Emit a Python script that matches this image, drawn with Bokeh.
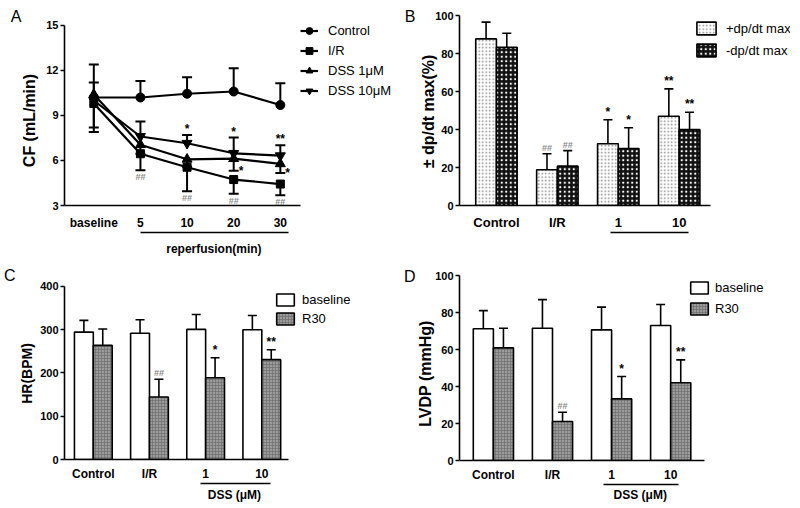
from bokeh.plotting import figure
from bokeh.models import FixedTicker, LinearAxis, Legend, LegendItem, Range1d
from bokeh.layouts import row, column
from bokeh.embed import file_html
from bokeh.resources import INLINE
from bokeh.core.properties import value

FONT = "Liberation Sans"

# ---------------- Panel A data (CF, mL/min) ----------------
a_labels = ["baseline", "5", "10", "20", "30"]
ctrl = [10.2, 10.2, 10.45, 10.6, 9.7]
ctrl_up = [1.0, 1.1, 1.1, 1.55, 1.45]
ctrl_dn = [0, 0, 0, 0, 0]
ir = [9.8, 6.45, 5.55, 4.73, 4.43]
ir_up = [0, 0, 0, 0, 0]
ir_dn = [1.9, 1.1, 1.6, 0.95, 0.75]
dss1 = [10.4, 7.05, 6.08, 6.12, 5.78]
dss1_up = [2.0, 0, 0, 0, 0]
dss1_dn = [0, 0.6, 0.5, 0.8, 0.62]
dss10 = [10.0, 7.6, 7.15, 6.48, 6.32]
dss10_up = [0, 1.0, 0.55, 1.05, 0.7]
dss10_dn = [1.8, 0, 0, 0, 0]
ir_sig = ["", "##", "##", "##", "##"]
dss1_sig = ["", "", "", "*", "*"]
dss10_sig = ["", "", "*", "*", "**"]

# ---------------- Panel B data (±dp/dt max %) ----------------
b_labels = ["Control", "I/R", "1", "10"]
plus = [87.7, 18.8, 32.5, 47.0]
plus_err = [8.8, 8.4, 12.6, 14.4]
minus = [83.3, 20.7, 30.0, 40.0]
minus_err = [7.4, 8.2, 10.9, 9.1]
plus_sig = ["", "##", "*", "**"]
minus_sig = ["", "##", "*", "**"]

# ---------------- Panel C data (HR, BPM) ----------------
c_labels = ["Control", "I/R", "1", "10"]
hr_base = [294.6, 292.0, 300.8, 300.0]
hr_base_err = [27.0, 31.0, 34.6, 33.0]
hr_r30 = [263.8, 144.6, 189.0, 230.8]
hr_r30_err = [38.0, 41.0, 46.4, 23.0]
hr_sig = ["", "##", "*", "**"]

# ---------------- Panel D data (LVDP, mmHg) ----------------
d_labels = ["Control", "I/R", "1", "10"]
lv_base = [71.2, 71.5, 70.6, 73.0]
lv_base_err = [9.8, 15.5, 12.3, 11.3]
lv_r30 = [60.9, 21.1, 33.3, 42.0]
lv_r30_err = [10.6, 5.0, 12.1, 12.4]
lv_sig = ["", "##", "*", "**"]


def make_fig(w, h, xr, yr, ml, mr, mt, mb):
    p = figure(width=w, height=h, x_range=Range1d(*xr), y_range=Range1d(*yr),
               output_backend="svg", toolbar_location=None, title=None,
               min_border_left=ml, min_border_right=mr, min_border_top=mt, min_border_bottom=mb)
    p.outline_line_color = None
    p.xgrid.visible = False
    p.ygrid.visible = False
    p.background_fill_color = "white"
    p.border_fill_color = "white"
    return p


def no_ticks(ax):
    ax.major_tick_out = 0
    ax.major_tick_in = 0
    ax.minor_tick_out = 0
    ax.minor_tick_in = 0


def style_axes(p, xlabels, xbounds, xfs, xstand, yticks, ybounds, yfs):
    xa = p.xaxis[0]
    xa.ticker = FixedTicker(ticks=list(range(len(xlabels))))
    xa.major_label_overrides = {i: t for i, t in enumerate(xlabels)}
    xa.bounds = xbounds
    no_ticks(xa)
    xa.major_label_standoff = xstand
    xa.major_label_text_font = FONT
    xa.major_label_text_font_style = "bold"
    xa.major_label_text_font_size = xfs
    xa.major_label_text_color = "black"
    xa.axis_line_width = 1.6
    xa.axis_line_color = "black"
    ya = p.yaxis[0]
    ya.ticker = FixedTicker(ticks=yticks)
    ya.bounds = ybounds
    no_ticks(ya)
    ya.major_tick_out = 4
    ya.major_tick_line_width = 1.6
    ya.major_label_standoff = 2
    ya.major_label_text_font = FONT
    ya.major_label_text_font_style = "bold"
    ya.major_label_text_font_size = yfs
    ya.major_label_text_color = "black"
    ya.axis_line_width = 1.6
    ya.axis_line_color = "black"


def text_axis(p, side, pos, text, stand, fs, bold, orient="horizontal", bounds=None, line=False):
    ax = LinearAxis(ticker=FixedTicker(ticks=[pos] if text else []))
    if text:
        ax.major_label_overrides = {pos: text}
    if bounds is not None:
        ax.bounds = bounds
    no_ticks(ax)
    ax.major_label_standoff = stand
    ax.major_label_orientation = orient
    ax.major_label_text_font = FONT
    ax.major_label_text_font_style = "bold" if bold else "normal"
    ax.major_label_text_font_size = fs
    ax.major_label_text_color = "black"
    if line:
        ax.axis_line_width = 1.6
        ax.axis_line_color = "black"
    else:
        ax.axis_line_color = None
    p.add_layout(ax, side)


def sig_text(p, xs, ys, sigs, baseline, yoff, xoff=0, align="center"):
    hx = [x for x, s in zip(xs, sigs) if s.startswith("#")]
    hy = [y for y, s in zip(ys, sigs) if s.startswith("#")]
    ht = [s for s in sigs if s.startswith("#")]
    sx = [x for x, s in zip(xs, sigs) if s.startswith("*")]
    sy = [y for y, s in zip(ys, sigs) if s.startswith("*")]
    st = [s for s in sigs if s.startswith("*")]
    if ht:
        p.text(x=hx, y=hy, text=ht, text_align=align, text_baseline=baseline,
               y_offset=yoff, x_offset=xoff, text_font=value(FONT), text_font_size="9px",
               text_color="#8a8a8a", text_font_style="bold")
    if st:
        p.text(x=sx, y=sy, text=st, text_align=align, text_baseline=baseline,
               y_offset=yoff, x_offset=xoff, text_font=value(FONT), text_font_size="12px",
               text_color="black", text_font_style="bold")


def bars(p, vals, errs, off, w, **style):
    xs = [i + off for i in range(len(vals))]
    r = p.vbar(x=xs, top=vals, bottom=0, width=w, line_color="black", line_width=1.6, **style)
    tops = [v + e for v, e in zip(vals, errs)]
    p.segment(x0=xs, y0=vals, x1=xs, y1=tops, line_color="black", line_width=1.6)
    p.scatter(x=xs, y=tops, marker="dash", size=9, line_color="black", line_width=1.6)
    return r, xs, tops


def bar_legend(p, items, loc, gw, gh, lh, sp, stand, fs):
    lg = Legend(items=[LegendItem(label=l, renderers=[r]) for l, r in items], location=loc,
                glyph_width=gw, glyph_height=gh, label_height=lh, spacing=sp, label_standoff=stand,
                padding=0, margin=0, border_line_color=None, background_fill_alpha=0,
                label_text_font=FONT, label_text_font_size=fs, label_text_color="black")
    p.add_layout(lg)


# ======================= Panel A =======================
pA = make_fig(400, 260, (-0.6283, 6.534), (3, 16.133), 58, 0, 8, 55)
style_axes(pA, a_labels, (-0.6283, 4.44), "12px", 10, [3, 6, 9, 12, 15], (3, 15), "11px")
text_axis(pA, "left", 8.667, "CF (mL/min)", 5, "16px", True, "vertical")
text_axis(pA, "left", 15.6, "A", -3, "16px", False)
text_axis(pA, "below", 2.576, "reperfusion(min)", 9, "12px", True, bounds=(1, 4.17), line=True)
idx = list(range(len(a_labels)))
series = [
    ("Control", ctrl, ctrl_up, ctrl_dn, "circle", 9),
    ("I/R", ir, ir_up, ir_dn, "square", 8),
    ("DSS 1\u03bcM", dss1, dss1_up, dss1_dn, "triangle", 10),
    ("DSS 10\u03bcM", dss10, dss10_up, dss10_dn, "inverted_triangle", 10),
]
items_a = []
for name, vals, up, dn, mk, sz in series:
    ux = [i for i, e in zip(idx, up) if e > 0]
    uy0 = [v for v, e in zip(vals, up) if e > 0]
    uy1 = [v + e for v, e in zip(vals, up) if e > 0]
    dx = [i for i, e in zip(idx, dn) if e > 0]
    dy0 = [v for v, e in zip(vals, dn) if e > 0]
    dy1 = [v - e for v, e in zip(vals, dn) if e > 0]
    for xs, y0, y1 in ((ux, uy0, uy1), (dx, dy0, dy1)):
        if xs:
            pA.segment(x0=xs, y0=y0, x1=xs, y1=y1, line_color="black", line_width=2)
            pA.scatter(x=xs, y=y1, marker="dash", size=10, line_color="black", line_width=2)
    lr = pA.line(idx, vals, line_color="black", line_width=2.2)
    sr = pA.scatter(idx, vals, marker=mk, size=sz, fill_color="black", line_color="black")
    items_a.append(LegendItem(label=name, renderers=[lr, sr]))
legA = Legend(items=items_a, location=(236, 106), glyph_width=18, glyph_height=17,
              label_height=17, spacing=3, label_standoff=10, padding=0, margin=0,
              border_line_color=None, background_fill_alpha=0, label_text_font=FONT,
              label_text_font_size="13px", label_text_color="black")
pA.add_layout(legA)
sig_text(pA, idx, [v + e for v, e in zip(dss10, dss10_up)], dss10_sig, "bottom", 1)
sig_text(pA, idx, [v - e for v, e in zip(dss1, dss1_dn)], dss1_sig, "middle", 0, xoff=5, align="left")
sig_text(pA, idx, [v - e for v, e in zip(ir, ir_dn)], ir_sig, "top", 2)

# ======================= Panel B =======================
pB = make_fig(398, 260, (-0.6063, 4.827), (0, 104.74), 53, 0, 6, 55)
style_axes(pB, b_labels, (-0.6063, 3.52), "13px", 9, [0, 20, 40, 60, 80, 100], (0, 100), "11px")
text_axis(pB, "left", 49.47, "\u00b1 dp/dt max(%)", -5, "16px", True, "vertical")
text_axis(pB, "left", 99.47, "B", 2, "16px", False)
text_axis(pB, "below", 0, None, 0, "12px", True, bounds=(1.88, 3.16), line=True)
wB = 0.34
rb1, xb1, tb1 = bars(pB, plus, plus_err, -wB / 2, wB, fill_color="white",
                     hatch_pattern=".", hatch_color="#8a8a8a", hatch_scale=3.5, hatch_weight=0.8)
rb2, xb2, tb2 = bars(pB, minus, minus_err, wB / 2, wB, fill_color="#111111",
                     hatch_pattern=".", hatch_color="white", hatch_scale=4.5, hatch_weight=1.0)
sig_text(pB, xb1, tb1, plus_sig, "bottom", -1)
sig_text(pB, xb2, tb2, minus_sig, "bottom", -1)
bar_legend(pB, [("+dp/dt max", rb1), ("-dp/dt max", rb2)], (235, 147), 24, 16, 16, 6, 8, "13px")

# ======================= Panel C =======================
pC = make_fig(400, 246, (-0.513, 5.434), (0, 441.6), 62, 2, 8, 47)
style_axes(pC, c_labels, (-0.513, 3.47), "12px", 7, [0, 100, 200, 300, 400], (0, 400), "11px")
text_axis(pC, "left", 198.8, "HR(BPM)", 2, "14px", True, "vertical")
text_axis(pC, "left", 425.4, "C", 1, "16px", False)
text_axis(pC, "below", 2.513, "DSS (\u03bcM)", 4, "12px", True, bounds=(1.91, 3.15), line=True)
wC = 0.336
rc1, xc1, tc1 = bars(pC, hr_base, hr_base_err, -wC / 2, wC, fill_color="white")
rc2, xc2, tc2 = bars(pC, hr_r30, hr_r30_err, wC / 2, wC, fill_color="#9b9b9b",
                     hatch_pattern="+", hatch_color="#6e6e6e", hatch_scale=3, hatch_weight=0.7)
sig_text(pC, xc2, tc2, hr_sig, "bottom", -1)
bar_legend(pC, [("baseline", rc1), ("R30", rc2)], (210, 133), 22, 15, 15, 4, 6, "13px")

# ======================= Panel D =======================
pD = make_fig(398, 246, (-0.5734, 5.027), (0, 103.8), 53, 8, 8, 46)
style_axes(pD, d_labels, (-0.5734, 3.565), "12px", 7, [0, 20, 40, 60, 80, 100], (0, 100), "11px")
text_axis(pD, "left", 47.0, "LVDP (mmHg)", -2, "16px", True, "vertical")
text_axis(pD, "left", 99.46, "D", -1, "16px", False)
text_axis(pD, "below", 2.485, "DSS (\u03bcM)", 3, "12px", True, bounds=(1.87, 3.13), line=True)
wD = 0.34
rd1, xd1, td1 = bars(pD, lv_base, lv_base_err, -wD / 2, wD, fill_color="white")
rd2, xd2, td2 = bars(pD, lv_r30, lv_r30_err, wD / 2, wD, fill_color="#9b9b9b",
                     hatch_pattern="+", hatch_color="#6e6e6e", hatch_scale=3, hatch_weight=0.7)
sig_text(pD, xd2, td2, lv_sig, "bottom", -1)
bar_legend(pD, [("baseline", rd1), ("R30", rd2)], (229, 144), 22, 15, 15, 6, 5, "13px")

layout = row(column(pA, pC), column(pB, pD))
open("out.html", "w").write(file_html(layout, INLINE))
